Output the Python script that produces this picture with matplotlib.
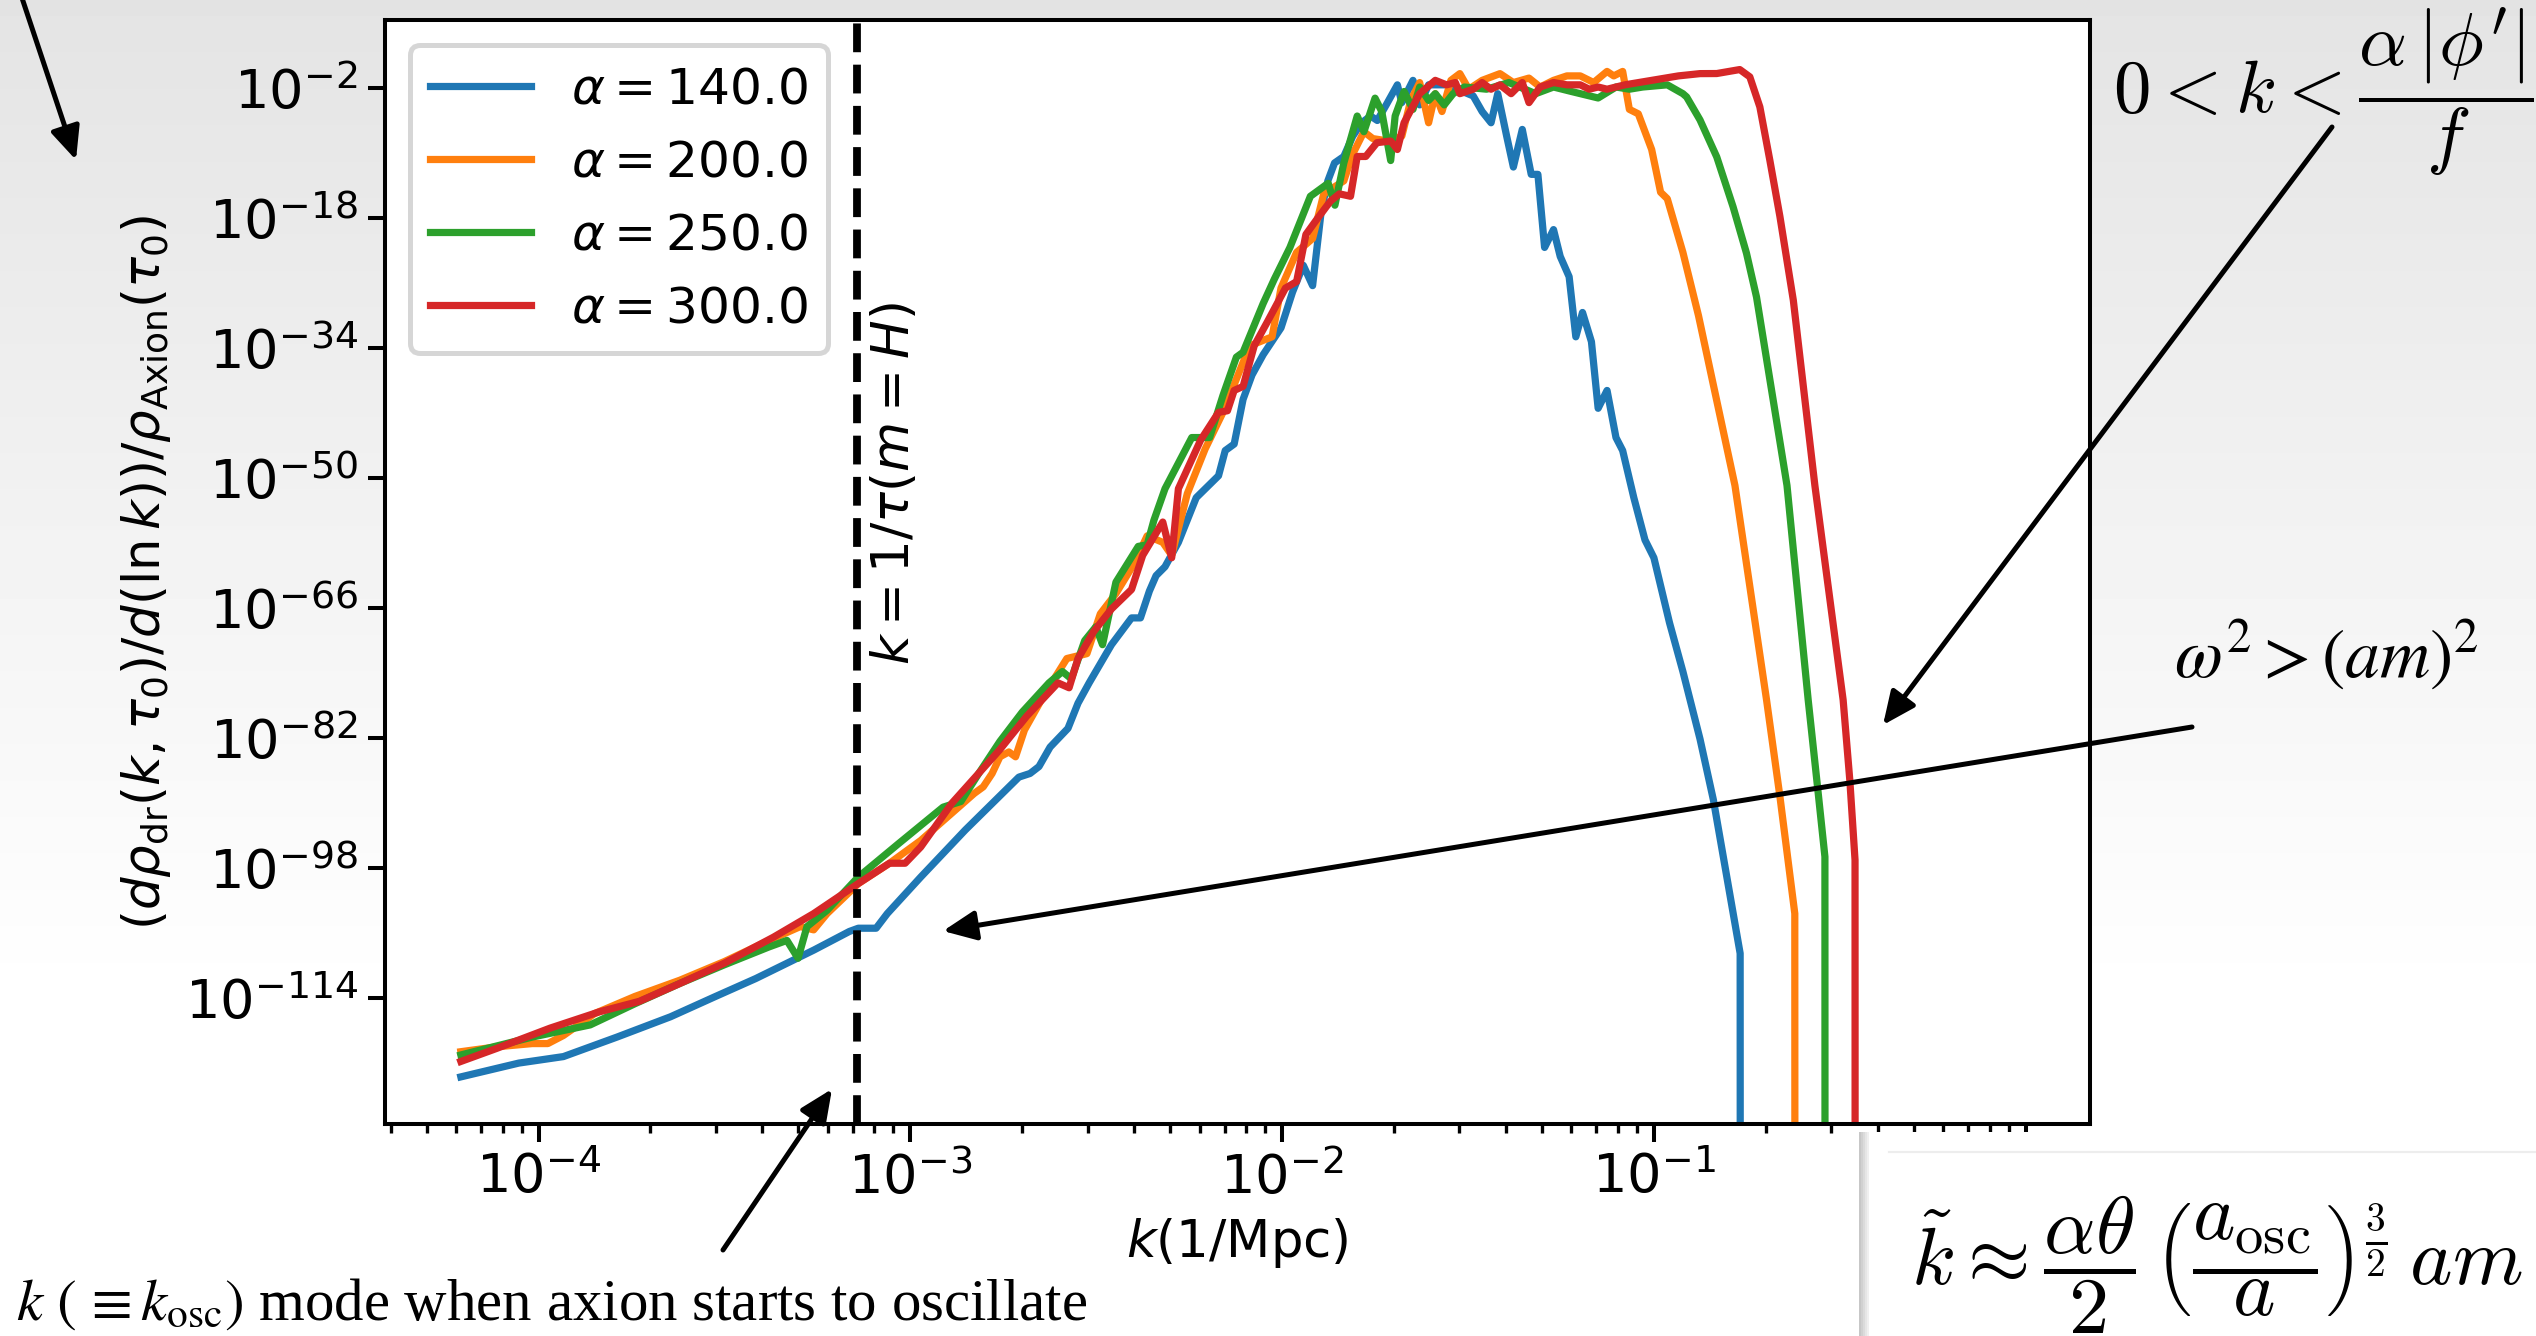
import numpy as np
import matplotlib
matplotlib.use("Agg")
import matplotlib.pyplot as plt
from matplotlib.patches import FancyArrowPatch, Rectangle
from matplotlib.ticker import FixedLocator, NullLocator, LogFormatterSciNotation, FuncFormatter

# ---------------- data (log10 of k [1/Mpc] and log10 of spectrum) ----------------
alphas = [140.0, 200.0, 250.0, 300.0]
colors = ["#1f77b4", "#ff7f0e", "#2ca02c", "#d62728"]
NEG = float("-inf")  # spectrum drops to zero

blue_k = [
    -4.209, -4.053, -3.933, -3.789, -3.645, -3.524, -3.416, -3.260, -3.164, -3.140,
    -3.092, -3.062, -2.972, -2.852, -2.708, -2.678, -2.654, -2.624, -2.576, -2.549,
    -2.519, -2.459, -2.405, -2.381, -2.357, -2.339, -2.315, -2.279, -2.231, -2.171,
    -2.153, -2.129, -2.105, -2.081, -2.051, -2.003, -1.972, -1.943, -1.918, -1.895,
    -1.877, -1.859, -1.834, -1.810, -1.786, -1.762, -1.744, -1.720, -1.690, -1.678,
    -1.648, -1.630, -1.606, -1.558, -1.486, -1.462, -1.438, -1.420, -1.396, -1.378,
    -1.354, -1.330, -1.312, -1.294, -1.270, -1.252, -1.228, -1.210, -1.192, -1.168,
    -1.150, -1.126, -1.102, -1.084, -1.054, -1.024, -1.000, -0.958, -0.922, -0.876,
    -0.840, -0.768, -0.760]
blue_y = [
    -123.7, -122.0, -121.2, -118.8, -116.3, -113.8, -111.6, -108.1, -105.8, -105.4,
    -105.4, -103.6, -99.1, -93.3, -86.8, -86.35, -85.5, -83.1, -80.8, -77.7,
    -75.2, -70.5, -67.2, -67.2, -63.9, -62.0, -60.9, -57.9, -52.4, -49.7,
    -46.6, -45.8, -40.3, -37.3, -34.8, -31.5, -27.1, -23.8, -26.3, -17.2,
    -13.4, -11.2, -10.4, -7.9, -6.25, -5.42, -5.97, -4.05, -1.58, -3.77,
    -1.03, -4.05, -1.58, -1.58, -2.95, -4.87, -6.25, -2.67, -7.9, -11.7,
    -7.07, -12.6, -12.6, -21.6, -19.4, -22.7, -25.2, -32.6, -29.6, -33.2,
    -41.4, -39.2, -45.0, -46.6, -52.4, -57.6, -59.8, -67.8, -73.8, -82.1,
    -89.6, -108.5, NEG]

orange_k = [
    -4.209, -4.113, -4.017, -3.975, -3.933, -3.849, -3.741, -3.620, -3.500, -3.380,
    -3.296, -3.260, -3.224, -3.176, -3.140, -3.056, -2.972, -2.900, -2.828, -2.804,
    -2.780, -2.759, -2.735, -2.717, -2.693, -2.639, -2.579, -2.525, -2.489, -2.447,
    -2.399, -2.363, -2.321, -2.297, -2.255, -2.207, -2.159, -2.087, -2.027, -2.003,
    -1.961, -1.918, -1.888, -1.834, -1.810, -1.780, -1.756, -1.714, -1.678, -1.654,
    -1.630, -1.606, -1.588, -1.570, -1.546, -1.522, -1.498, -1.462, -1.414, -1.378,
    -1.336, -1.306, -1.270, -1.234, -1.198, -1.162, -1.126, -1.108, -1.084, -1.066,
    -1.042, -1.006, -0.982, -0.964, -0.922, -0.880, -0.782, -0.697, -0.661, -0.621,
    -0.615]
orange_y = [
    -120.6, -120.0, -119.6, -119.6, -118.6, -115.9, -113.8, -111.8, -109.5, -106.9,
    -105.2, -105.6, -103.6, -101.5, -99.9, -97.4, -94.6, -91.7, -88.8, -88.0,
    -86.35, -84.3, -83.7, -84.3, -81.0, -76.6, -72.2, -71.6, -66.7, -64.2,
    -60.6, -57.1, -57.9, -59.5, -51.9, -46.4, -41.9, -33.7, -32.6, -26.6,
    -22.2, -20.5, -15.0, -13.4, -10.1, -7.35, -8.2, -8.5, -7.9, -3.5,
    -1.3, -6.25, -2.67, -4.87, -1.03, -0.2, -2.12, -1.03, -0.2, -1.3,
    -0.75, -1.85, -1.03, -0.48, -0.48, -1.3, 0.07, -0.48, 0.07, -4.6,
    -5.15, -9.54, -14.8, -15.6, -22.2, -30.0, -50.9, -77.3, -89.2, -103.6,
    NEG]

green_k = [
    -4.209, -4.017, -3.861, -3.741, -3.620, -3.500, -3.380, -3.332, -3.302, -3.278,
    -3.224, -3.140, -3.032, -2.912, -2.864, -2.816, -2.759, -2.699, -2.627, -2.591,
    -2.567, -2.531, -2.501, -2.483, -2.447, -2.387, -2.363, -2.345, -2.315, -2.243,
    -2.195, -2.159, -2.123, -2.105, -2.051, -2.021, -1.979, -1.924, -1.876, -1.858,
    -1.834, -1.798, -1.780, -1.750, -1.732, -1.708, -1.696, -1.672, -1.648, -1.630,
    -1.606, -1.588, -1.564, -1.540, -1.510, -1.450, -1.390, -1.318, -1.270, -1.222,
    -1.150, -1.102, -1.066, -1.030, -0.964, -0.922, -0.912, -0.876, -0.831, -0.787,
    -0.751, -0.724, -0.642, -0.585, -0.558, -0.540, -0.535]
green_y = [
    -121.0, -118.8, -117.3, -114.7, -112.2, -109.9, -107.7, -106.9, -109.1, -105.2,
    -103.2, -99.1, -95.0, -90.5, -89.8, -86.35, -82.4, -78.8, -75.2, -73.8,
    -74.7, -70.0, -68.3, -70.5, -62.8, -58.4, -58.2, -55.2, -51.3, -45.0,
    -45.0, -39.8, -35.1, -34.5, -28.5, -25.5, -21.6, -15.3, -13.7, -16.4,
    -11.2, -5.42, -7.35, -3.22, -4.87, -10.9, -5.42, -2.40, -4.6, -1.85,
    -3.5, -2.67, -4.05, -2.67, -1.85, -2.12, -1.3, -2.67, -1.85, -2.4,
    -3.2, -1.85, -2.12, -1.85, -1.58, -2.67, -3.07, -5.9, -10.45, -16.6,
    -22.3, -27.7, -50.9, -77.3, -88.8, -96.6, NEG]

red_k = [
    -4.209, -4.113, -3.969, -3.837, -3.729, -3.620, -3.500, -3.368, -3.260, -3.140,
    -3.056, -3.014, -2.972, -2.888, -2.792, -2.759, -2.687, -2.603, -2.573, -2.549,
    -2.507, -2.459, -2.405, -2.375, -2.321, -2.297, -2.279, -2.219, -2.171, -2.147,
    -2.129, -2.105, -2.075, -2.039, -1.991, -1.961, -1.936, -1.906, -1.870, -1.846,
    -1.816, -1.798, -1.775, -1.745, -1.708, -1.690, -1.672, -1.630, -1.588, -1.558,
    -1.534, -1.522, -1.486, -1.462, -1.438, -1.414, -1.384, -1.354, -1.336, -1.306,
    -1.270, -1.234, -1.198, -1.174, -1.150, -1.126, -1.078, -1.006, -0.934, -0.876,
    -0.831, -0.769, -0.742, -0.715, -0.688, -0.661, -0.625, -0.567, -0.491, -0.473,
    -0.459, -0.454]
red_y = [
    -121.8, -120.2, -117.7, -115.7, -114.4, -112.2, -109.7, -106.5, -103.6, -99.9,
    -97.4, -97.4, -95.4, -90.0, -85.1, -83.4, -79.3, -75.2, -75.8, -72.2,
    -68.9, -66.1, -63.7, -59.5, -55.4, -59.8, -51.3, -45.3, -41.9, -41.7,
    -39.2, -38.7, -33.7, -30.7, -26.6, -25.8, -20.0, -18.1, -15.9, -15.0,
    -15.3, -10.4, -10.4, -8.7, -8.5, -9.54, -6.25, -2.67, -1.03, -1.58,
    -1.3, -2.67, -2.12, -1.3, -2.12, -1.58, -2.67, -1.3, -3.77, -1.85,
    -1.3, -1.58, -1.58, -2.12, -1.85, -2.12, -1.58, -1.03, -0.48, -0.2,
    -0.19, 0.30, -0.6, -4.3, -10.9, -17.8, -28.1, -50.9, -77.3, -87.2,
    -97.0, NEG]

k_osc_exp = -3.143                     # k = 1/tau(m = H)
ytick_exps = [-2, -18, -34, -50, -66, -82, -98, -114]

# ---------------- figure ----------------
W, H = 2536, 1336
DPI = 200
fig = plt.figure(figsize=(W / DPI, H / DPI), dpi=DPI)


def fx(X):
    return X / W


def fy(Y):
    return 1 - Y / H


# slide background: light-grey vertical gradient
bg = fig.add_axes([0, 0, 1, 1], zorder=-10)
ypix = np.linspace(0, H, 400)
grad = np.clip(0.893 + 0.107 * ypix / 1000.0, 0, 1)
bg.imshow(grad[:, None], aspect="auto", cmap="gray", vmin=0, vmax=1,
          extent=[0, 1, 0, 1], origin="upper", interpolation="bilinear")
bg.axis("off")

FS = 18.5
TFS = 19.5
ax = fig.add_axes([fx(385), fy(1124), (2090 - 385) / W, (1124 - 20) / H])
ax.set_facecolor("white")

series = [(blue_k, blue_y), (orange_k, orange_y), (green_k, green_y), (red_k, red_y)]
for (kk, yy), a, c in zip(series, alphas, colors):
    ax.plot(10.0 ** np.array(kk), 10.0 ** np.array(yy), color=c, lw=2.6,
            label=r"$\alpha = %.1f$" % a)

ax.set_xscale("log")
ax.set_yscale("log")
ax.set_xlim(10 ** -4.413, 10 ** 0.173)
ax.set_ylim(10 ** -129.5, 10 ** 6.4)

ax.axvline(10 ** k_osc_exp, color="k", ls="--", lw=2.8)
ax.text(10 ** -3.04, 10 ** -50.6, r"$k = 1/\tau(m = H)$", rotation=90,
        ha="center", va="center", fontsize=FS)

ax.yaxis.set_major_locator(FixedLocator([10.0 ** e for e in ytick_exps]))
ax.yaxis.set_minor_locator(NullLocator())
ax.yaxis.set_major_formatter(LogFormatterSciNotation())

_xfmt = LogFormatterSciNotation()


def xfmt(v, pos=None):
    # the 10^0 label is hidden behind the formula box in the slide
    return "" if v > 0.5 else _xfmt(v, pos)


ax.xaxis.set_major_formatter(FuncFormatter(xfmt))

ax.tick_params(which="major", length=6.3, width=1.45, labelsize=TFS)
ax.tick_params(which="minor", length=3.4, width=1.2)
for s in ax.spines.values():
    s.set_linewidth(1.45)

ax.set_xlabel(r"$k$(1/Mpc)", fontsize=FS)
ax.set_ylabel(r"$(d\rho_{\rm dr}(k, \tau_0)/d(\ln k))/\rho_{\rm Axion}(\tau_0)$",
              fontsize=FS)

leg = ax.legend(loc="upper left", fontsize=18.1)
leg.get_frame().set_linewidth(1.8)

# ---------------- slide annotations ----------------
def arrow(p0, p1):
    fig.add_artist(FancyArrowPatch(
        (fx(p0[0]), fy(p0[1])), (fx(p1[0]), fy(p1[1])),
        transform=fig.transFigure, arrowstyle="-|>,head_length=0.4,head_width=0.18",
        mutation_scale=25, lw=1.8, color="k", shrinkA=0, shrinkB=0, zorder=6))


arrow((20, -8), (76, 160))
arrow((2332, 127), (1883, 725))
arrow((2192, 727), (943, 931))
arrow((723, 1250), (832, 1089))

fig.text(fx(2323), fy(92), r"$0 < k < \dfrac{\alpha\,|\phi^{\prime}|}{f}$",
         ha="center", va="center", fontsize=27, math_fontfamily="cm", zorder=6)
fig.text(fx(2326), fy(655), r"$\omega^2 > (am)^2$",
         ha="center", va="center", fontsize=25, math_fontfamily="stix", zorder=6)
fig.text(fx(16), fy(1320),
         r"$k\ (\,\equiv k_{\rm osc})$ mode when axion starts to oscillate",
         ha="left", va="baseline", fontsize=21.2, family="Liberation Serif",
         math_fontfamily="stix", zorder=6)

# bottom-right formula box
fig.add_artist(Rectangle((fx(1860), 0), (W - 1860) / W, (H - 1132) / H,
                         transform=fig.transFigure, facecolor="white",
                         edgecolor="none", zorder=4))
for i, g in enumerate([0.78, 0.82, 0.86, 0.9, 0.94]):
    fig.add_artist(Rectangle((fx(1859 + 2 * i), 0), 2 / W, (H - 1132) / H,
                             transform=fig.transFigure, facecolor=str(g),
                             edgecolor="none", zorder=4.5))
fig.add_artist(plt.Line2D([fx(1889), 1], [fy(1152), fy(1152)],
                          transform=fig.transFigure, color="0.93", lw=0.8, zorder=4.5))
fig.text(fx(2217), fy(1265),
         r"$\tilde{k} \approx \dfrac{\alpha\theta}{2}\,\left(\dfrac{a_{\rm osc}}{a}\right)^{\frac{3}{2}}\, am$",
         ha="center", va="center", fontsize=29, math_fontfamily="cm", zorder=6)

fig.savefig("out.png", dpi=DPI)
